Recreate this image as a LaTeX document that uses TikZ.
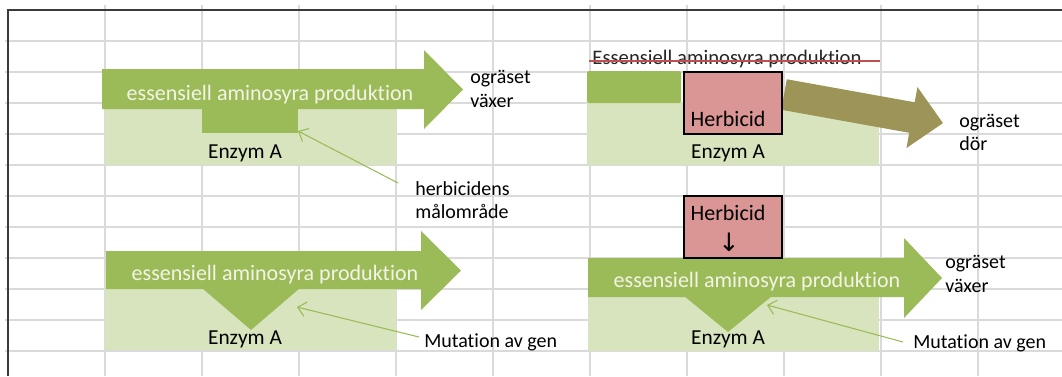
\documentclass[tikz,border=0pt]{standalone}
\usepackage{fontspec}
\setmainfont{Carlito}[Ligatures=NoCommon]
\newfontfamily\pilfont{DejaVu Sans}
\usetikzlibrary{arrows.meta}
\definecolor{gruen}{HTML}{9BBB59}
\definecolor{hellgruen}{HTML}{D7E4BD}
\definecolor{rosa}{HTML}{D99694}
\definecolor{oliv}{HTML}{9D9458}
\definecolor{gitter}{HTML}{DADADA}
\definecolor{rand}{HTML}{3A3A3A}
\definecolor{strykrod}{HTML}{C0504D}
\definecolor{piltext}{HTML}{F4F4E6}
\begin{document}
\begin{tikzpicture}[x=0.75pt,y=-0.75pt,
	etikett/.style={font=\fontsize{15}{18}\selectfont, inner sep=0pt, anchor=base west},
	enzym/.style={font=\fontsize{16}{19}\selectfont, inner sep=0pt, anchor=base},
	herbtext/.style={font=\fontsize{16.5}{19}\selectfont, inner sep=0pt, anchor=base},
	pil/.style={font=\fontsize{16.5}{19}\selectfont, text=piltext, inner sep=0pt, anchor=base},
	stryk/.style={font=\fontsize{15.5}{18}\selectfont, text=black!85, inner sep=0pt, anchor=base},
	pekare/.style={draw=gruen, line width=0.8pt, -{Straight Barb[length=6pt,width=11pt]}},
	herbruta/.style={fill=rosa, draw=black, line width=2.2pt}]
	\useasboundingbox (0,0) rectangle (1062,376);
	\fill[white] (0,0) rectangle (1062,376);

	% Rutnät
		\foreach \x in {105,202,...,978} \draw[gitter, line width=0.9pt] (\x,5) -- (\x,376);
		\foreach \y in {41,72,...,351} \draw[gitter, line width=0.9pt] (5,\y) -- (1062,\y);
		\draw[rand, line width=1.5pt] (8,376) -- (8,10) -- (1062,10);

	% Uppe till vänster
		\fill[hellgruen] (105,103) rectangle (396,165);
		\fill[gruen] (102,69) -- (424,69) -- (424,50) -- (463,89.5) -- (424,129) -- (424,109) -- (102,109) -- cycle;
		\fill[gruen] (202,105) rectangle (298,133);
		\coordinate (malTL) at (298,131);
		\node[pil] (prodTL) at (270,100) {essensiell aminosyra produktion};
		\node[enzym] (enzTL) at (245,158) {Enzym A};
		\node[etikett] (ograsTL) at (470,83) {ogräset};
		\node[etikett] (vaxerTL) at (470,107) {växer};
		\node[etikett] (herbTL) at (415,195) {herbicidens};
		\node[etikett] (malomTL) at (415,218) {målområde};
		\draw[pekare] ([shift={(-17,-12)}]herbTL.base west) -- (malTL);

	% Uppe till höger
		\fill[hellgruen] (587,103) rectangle (879,165);
		\fill[gruen, rounded corners=1.5pt] (587,71) rectangle (681,103);
		\begin{scope}[shift={(784,94.5)}, rotate=-10.2]
			\fill[oliv] (0,-15.5) -- (130,-15.5) -- (130,-31) -- (161.5,0) -- (130,31) -- (130,15.5) -- (0,15.5) -- cycle;
		\end{scope}
		\draw[herbruta] (684,72) rectangle (782,134);
		\node[herbtext] (herbTR) at (728,126) {Herbicid};
		\node[enzym] (enzTR) at (728,158) {Enzym A};
		\node[stryk] (prodTR) at (727,64) {Essensiell aminosyra produktion};
		\draw[strykrod, line width=0.8pt] (589,61) -- (880,61);
		\node[etikett] (ograsTR) at (959,127) {ogräset};
		\node[etikett] (dorTR) at (959,150) {dör};

	% Nere till vänster
		\fill[hellgruen] (105,270) rectangle (396,350);
		\fill[gruen] (106,251) -- (421,251) -- (421,231) -- (461,270.5) -- (421,310) -- (421,289) -- (106,289) -- cycle;
		\fill[gruen] (202,288) -- (300,288) -- (251,330) -- cycle;
		\coordinate (spetsBL) at (297,307);
		\node[pil] (prodBL) at (275,280) {essensiell aminosyra produktion};
		\node[enzym] (enzBL) at (245,344) {Enzym A};
		\node[etikett] (mutBL) at (424,347) {Mutation av gen};
		\draw[pekare] ([shift={(-5,-10)}]mutBL.base west) -- (spetsBL);

	% Nere till höger
		\fill[hellgruen] (588,280) rectangle (879,351);
		\fill[gruen] (588,258) -- (904,258) -- (904,238) -- (942,278) -- (904,318) -- (904,297) -- (588,297) -- cycle;
		\fill[gruen] (684,296) -- (772,296) -- (728,332) -- cycle;
		\draw[herbruta] (684,196) rectangle (782,258);
		\node[herbtext] (herbBR) at (728,220) {Herbicid};
		\node[herbtext] (nedBR) at (729,251) {\pilfont\fontsize{19}{21}\selectfont ↓};
		\node[pil] (prodBR) at (757,287) {essensiell aminosyra produktion};
		\node[enzym] (enzBR) at (728,344) {Enzym A};
		\node[etikett] (ograsBR) at (945,268) {ogräset};
		\node[etikett] (vaxerBR) at (945,292) {växer};
		\node[etikett] (mutBR) at (913,348) {Mutation av gen};
		\coordinate (spetsBR) at (767,305);
		\draw[pekare] ([shift={(-10,-6)}]mutBR.base west) -- (spetsBR);
\end{tikzpicture}
\end{document}
